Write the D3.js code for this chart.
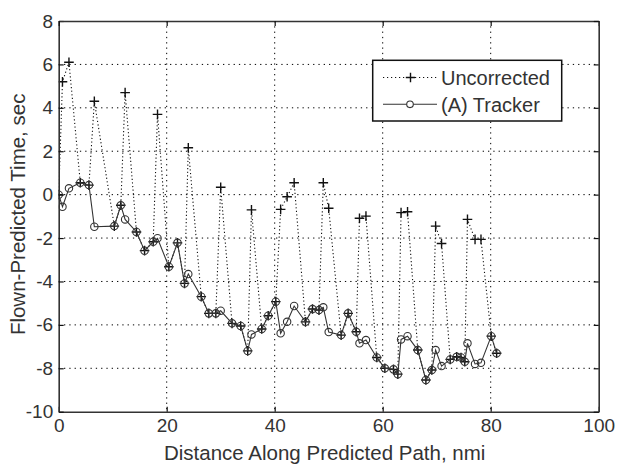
<!DOCTYPE html>
<html>
<head>
<meta charset="utf-8">
<script src="https://cdn.jsdelivr.net/npm/d3@7"></script>
<style>
  html, body { margin: 0; padding: 0; background: #fff; }
  svg { display: block; }
  text { font-family: "Liberation Sans", Arial, Helvetica, sans-serif; fill: #333; }
</style>
</head>
<body>
<svg id="chart" width="619" height="464"></svg>
<script>
// Distance along predicted path (nmi) for each sample
const distance = [0.0, 0.7, 1.9, 4.0, 5.6, 6.6, 10.3, 11.5, 12.3, 14.4, 15.9, 17.5, 18.3, 20.4, 22.0,
  23.3, 24.0, 26.4, 27.8, 29.1, 30.0, 32.1, 33.7, 35.0, 35.7, 37.6, 38.8, 40.2, 41.1, 42.3,
  43.6, 45.7, 47.0, 48.2, 49.0, 50.0, 52.3, 53.6, 55.1, 55.7, 56.9, 58.9, 60.4, 62.0, 62.8,
  63.4, 64.6, 66.5, 68.0, 69.1, 69.8, 70.9, 72.5, 73.7, 74.5, 75.2, 75.7, 77.1, 78.2, 80.1, 81.1];

// Flown minus predicted time (sec), uncorrected prediction
const uncorrected = [0.0, 5.2, 6.1, 0.55, 0.44, 4.3, -1.45, -0.49, 4.7, -1.72, -2.58, -2.17, 3.7, -3.32, -2.22,
  -4.09, 2.16, -4.7, -5.47, -5.47, 0.34, -5.93, -6.05, -7.2, -0.7, -6.19, -5.58, -4.93, -0.68, -0.1,
  0.55, -5.86, -5.27, -5.32, 0.55, -0.63, -6.47, -5.47, -6.32, -1.09, -0.99, -7.5, -8.0, -8.05, -8.27,
  -0.83, -0.79, -7.16, -8.54, -8.08, -1.45, -2.25, -7.59, -7.47, -7.5, -7.7, -1.14, -2.06, -2.06, -6.52, -7.31];

// Flown minus predicted time (sec), (A) tracker
const tracker = [0.0, -0.56, 0.29, 0.55, 0.44, -1.48, -1.45, -0.49, -1.14, -1.72, -2.58, -2.17, -2.01, -3.32, -2.22,
  -4.09, -3.66, -4.7, -5.47, -5.47, -5.35, -5.93, -6.05, -7.2, -6.44, -6.19, -5.58, -4.93, -6.39, -5.86,
  -5.13, -5.86, -5.27, -5.32, -5.19, -6.33, -6.47, -5.47, -6.32, -6.85, -6.7, -7.5, -8.0, -8.05, -8.27,
  -6.67, -6.52, -7.16, -8.54, -8.08, -7.16, -7.9, -7.59, -7.47, -7.5, -7.7, -6.85, -7.8, -7.75, -6.52, -7.31];

const xTicks = [0, 20, 40, 60, 80, 100];
const yTicks = [-10, -8, -6, -4, -2, 0, 2, 4, 6, 8];
const seriesNames = ["Uncorrected", "(A) Tracker"];

const svg = d3.select("#chart");
const L = 58.7, R = 598.7, T = 21, B = 411.7;

const x = d3.scaleLinear().domain([0, 100]).range([L, R]);
const y = d3.scaleLinear().domain([-10, 8]).range([B, T]);

// grid
const grid = svg.append("g").attr("stroke", "#000").attr("stroke-width", 1)
  .attr("stroke-dasharray", "1.3,4");
grid.selectAll("line.gx").data(xTicks.slice(1, -1)).join("line")
  .attr("x1", d => x(d)).attr("x2", d => x(d)).attr("y1", T).attr("y2", B);
grid.selectAll("line.gy").data(yTicks.slice(1, -1)).join("line")
  .attr("y1", d => y(d)).attr("y2", d => y(d)).attr("x1", L).attr("x2", R);

svg.append("clipPath").attr("id", "plot").append("rect")
  .attr("x", L).attr("y", T).attr("width", R - L).attr("height", B - T);
const plot = svg.append("g").attr("clip-path", "url(#plot)");

const pts = (vals) => distance.map((d, i) => [d, vals[i]]);
const line = d3.line().x(d => x(d[0])).y(d => y(d[1]));
const plus = (g, cx, cy, s) => g.append("path")
  .attr("d", `M${cx - s},${cy}H${cx + s}M${cx},${cy - s}V${cy + s}`);

// uncorrected: dotted line with plus markers
plot.append("path").datum(pts(uncorrected)).attr("d", line)
  .attr("fill", "none").attr("stroke", "#111").attr("stroke-width", 1.1)
  .attr("stroke-dasharray", "1.2,2.4");
const pg = plot.append("g").attr("stroke", "#111").attr("stroke-width", 1.4);
pts(uncorrected).forEach(d => plus(pg, x(d[0]), y(d[1]), 4.8));

// tracker: solid line with circle markers
plot.append("path").datum(pts(tracker)).attr("d", line)
  .attr("fill", "none").attr("stroke", "#333").attr("stroke-width", 1.1);
plot.append("g").selectAll("circle").data(pts(tracker)).join("circle")
  .attr("cx", d => x(d[0])).attr("cy", d => y(d[1])).attr("r", 3.7)
  .attr("fill", "none").attr("stroke", "#333").attr("stroke-width", 1.1);

// axes with inward ticks on all four sides
const fs = "19px";
svg.append("g").attr("transform", `translate(0,${B})`)
  .call(d3.axisBottom(x).tickValues(xTicks).tickSize(-5).tickPadding(6.5).tickSizeOuter(0));
svg.append("g").attr("transform", `translate(${L},0)`)
  .call(d3.axisLeft(y).tickValues(yTicks).tickSize(-5).tickPadding(5.5).tickSizeOuter(0)
    .tickFormat(d => String(d).replace("\u2212", "-")));
svg.append("g").attr("transform", `translate(0,${T})`)
  .call(d3.axisTop(x).tickValues(xTicks).tickSize(-5).tickFormat("").tickSizeOuter(0));
svg.append("g").attr("transform", `translate(${R},0)`)
  .call(d3.axisRight(y).tickValues(yTicks).tickSize(-5).tickFormat("").tickSizeOuter(0));
svg.selectAll(".domain").attr("stroke", "#333").attr("stroke-width", 1.6);
svg.selectAll(".tick line").attr("stroke", "#111").attr("stroke-width", 1.2);
svg.selectAll(".tick text").attr("font-size", fs).attr("font-family", null).style("fill", "#333");

// axis titles
svg.append("text").attr("x", (L + R) / 2 - 4).attr("y", 460).attr("text-anchor", "middle")
  .attr("font-size", "20.5px").text("Distance Along Predicted Path, nmi");
svg.append("text").attr("transform", `translate(25,${(T + B) / 2 - 2}) rotate(-90)`)
  .attr("text-anchor", "middle").attr("font-size", "20.5px").text("Flown-Predicted Time, sec");

// legend
const lg = svg.append("g");
lg.append("rect").attr("x", 372.7).attr("y", 60.3).attr("width", 189).attr("height", 60.7)
  .attr("fill", "#fff").attr("stroke", "#111").attr("stroke-width", 1.5);
lg.append("line").attr("x1", 383).attr("x2", 437).attr("y1", 77.5).attr("y2", 77.5)
  .attr("stroke", "#111").attr("stroke-width", 1.1).attr("stroke-dasharray", "1.2,2.8");
plus(lg.append("g").attr("stroke", "#111").attr("stroke-width", 1.4), 410.5, 77.5, 4.7);
lg.append("line").attr("x1", 383).attr("x2", 437).attr("y1", 104.3).attr("y2", 104.3)
  .attr("stroke", "#333").attr("stroke-width", 1.1);
lg.append("circle").attr("cx", 410).attr("cy", 104.3).attr("r", 3.3)
  .attr("fill", "#fff").attr("stroke", "#333").attr("stroke-width", 1.1);
lg.selectAll("text").data(seriesNames).join("text")
  .attr("x", 441).attr("y", (d, i) => i === 0 ? 85 : 111.5)
  .attr("font-size", "20px").text(d => d);
</script>
</body>
</html>
